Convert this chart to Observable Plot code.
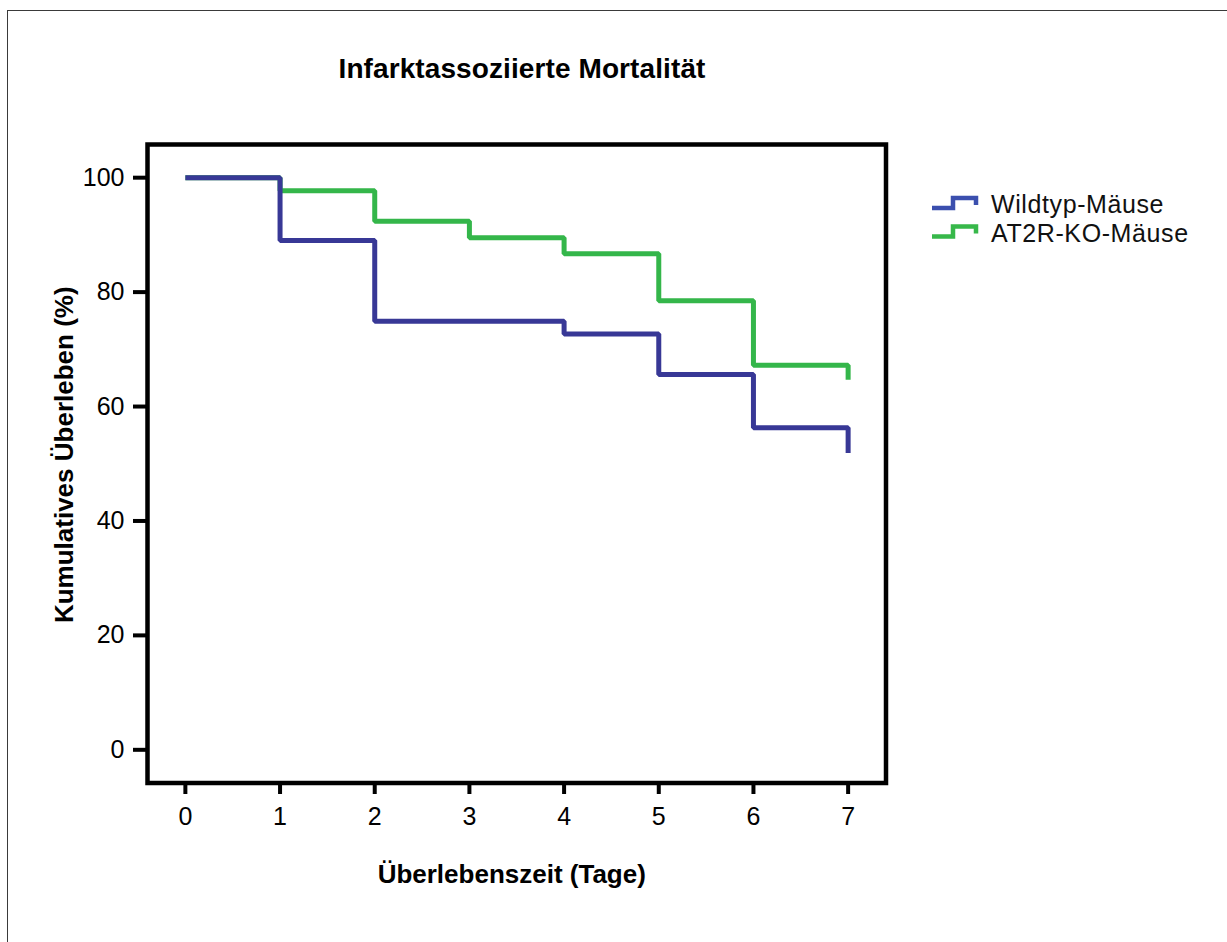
<!DOCTYPE html>
<html>
<head>
<meta charset="utf-8">
<script src="https://cdn.jsdelivr.net/npm/d3@7"></script>
<script src="https://cdn.jsdelivr.net/npm/@observablehq/plot@0.6"></script>
<style>
  html, body { margin: 0; padding: 0; background: #fff; overflow: hidden; width: 1227px; height: 942px; }
  body { position: relative; font-family: "Liberation Sans", Arial, sans-serif; }
  #border { position: absolute; left: 7px; top: 10px; width: 1400px; height: 1100px; border: 1.5px solid #3a3a3a; box-sizing: border-box; }
  #chart { position: absolute; left: 0; top: 0; }
  #title { position: absolute; left: 0; width: 1044px; top: 55px; text-align: center; font-size: 28px; line-height: 28px; font-weight: bold; color: #000; letter-spacing: 0.1px; }
  #legend { position: absolute; left: 0; top: 0; }
</style>
</head>
<body>
<div id="border"></div>
<div id="chart"></div>
<div id="title">Infarktassoziierte Mortalität</div>
<svg id="legend" width="1227" height="300"></svg>
<script>
// ---- data ----
const seriesNames = ["Wildtyp-Mäuse", "AT2R-KO-Mäuse"];
const wtDays = [0, 1, 2, 4, 5, 6, 7, 7];
const wtSurvival = [100, 89.0, 74.9, 72.7, 65.6, 56.3, 56.3, 51.9];
const koDays = [0, 1, 2, 3, 4, 5, 6, 7, 7];
const koSurvival = [100, 97.7, 92.4, 89.5, 86.7, 78.5, 67.2, 67.2, 64.7];
const xTicks = [0, 1, 2, 3, 4, 5, 6, 7];
const yTicks = [0, 20, 40, 60, 80, 100];
const xLabel = "Überlebenszeit (Tage)";
const yLabel = "Kumulatives Überleben (%)";
const colors = {"Wildtyp-Mäuse": "#383896", "AT2R-KO-Mäuse": "#34b64a"};
const legendColors = ["#3b4fae", "#37b84a"];

const wt = wtDays.map((d, i) => ({day: d, surv: wtSurvival[i], group: seriesNames[0]}));
const ko = koDays.map((d, i) => ({day: d, surv: koSurvival[i], group: seriesNames[1]}));

const W = 1227, H = 942;
const chart = Plot.plot({
  width: W,
  height: H,
  marginLeft: 147,
  marginRight: W - 885.5,
  marginTop: 144,
  marginBottom: H - 782.5,
  style: {fontFamily: "'Liberation Sans', Arial, sans-serif", fontSize: "25px", color: "#000", background: "transparent"},
  x: {domain: [-0.4, 7.4]},
  y: {domain: [-5.8, 105.8]},
  marks: [
    Plot.line(ko, {x: "day", y: "surv", stroke: colors[seriesNames[1]], strokeWidth: 5, curve: "step-after", strokeLinejoin: "miter", strokeLinecap: "butt"}),
    Plot.line(wt, {x: "day", y: "surv", stroke: colors[seriesNames[0]], strokeWidth: 5, curve: "step-after", strokeLinejoin: "miter", strokeLinecap: "butt"}),
    Plot.frame({stroke: "#000", strokeWidth: 4.5}),
    Plot.axisX({ticks: xTicks, tickSize: 11.5, tickPadding: 13, strokeWidth: 4, label: null, tickFormat: d => String(d), fontSize: 25}),
    Plot.axisY({ticks: yTicks, tickSize: 14, tickPadding: 9, strokeWidth: 4, label: null, tickFormat: d => String(d), fontSize: 25}),
    Plot.text([xLabel], {frameAnchor: "bottom", textAnchor: "middle", dx: -5, dy: 91.5, fontWeight: "bold", fontSize: 26, fill: "#000", lineAnchor: "middle"}),
    Plot.text([yLabel], {frameAnchor: "left", textAnchor: "middle", rotate: -90, dx: -83, dy: -9, fontWeight: "bold", fontSize: 26, fill: "#000", lineAnchor: "middle"})
  ]
});
document.getElementById("chart").appendChild(chart);

// legend
const lg = d3.select("#legend");
seriesNames.forEach((name, i) => {
  const oy = i * 28.5;
  lg.append("polyline")
    .attr("points", `932,${208 + oy} 953,${208 + oy} 953,${198 + oy} 976,${198 + oy} 976,${205 + oy}`)
    .attr("fill", "none").attr("stroke", legendColors[i]).attr("stroke-width", 4.5).attr("stroke-linejoin", "miter");
  lg.append("text")
    .attr("x", 991).attr("y", 213 + oy)
    .attr("font-family", "'Liberation Sans', Arial, sans-serif")
    .attr("font-size", 25).attr("letter-spacing", 0.6).attr("fill", "#111")
    .text(name);
});
</script>
</body>
</html>
